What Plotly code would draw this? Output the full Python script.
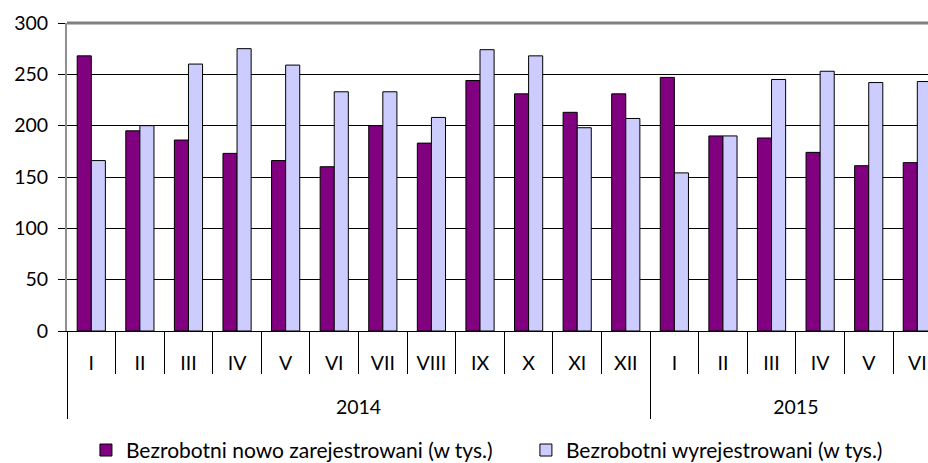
import plotly.graph_objects as go

years = ["2014"] * 12 + ["2015"] * 6
months = ["I", "II", "III", "IV", "V", "VI", "VII", "VIII", "IX", "X", "XI", "XII",
          "I", "II", "III", "IV", "V", "VI"]
registered = [268, 195, 186, 173, 166, 160, 200, 183, 244, 231, 213, 231,
              247, 190, 188, 174, 161, 164]
deregistered = [166, 200, 260, 275, 259, 233, 233, 208, 274, 268, 198, 207,
                154, 190, 245, 253, 242, 243]
series_names = ["Bezrobotni nowo zarejestrowani (w tys.)",
                "Bezrobotni wyrejestrowani (w tys.)"]

FONT = "Lato"

# month labels padded with an empty second line so that the year row sits lower
month_labels = [m + "<br><span style='font-size:48px'>\u00a0</span>" for m in months]

fig = go.Figure()
fig.add_trace(go.Bar(x=[years, month_labels], y=registered, name=series_names[0],
                     legend="legend",
                     marker=dict(color="#800080", line=dict(color="black", width=1))))
fig.add_trace(go.Bar(x=[years, month_labels], y=deregistered, name=series_names[1],
                     legend="legend2",
                     marker=dict(color="#CCCCFF", line=dict(color="black", width=1))))

legend_common = dict(orientation="h", y=-0.321, yanchor="top",
                     font=dict(family=FONT, size=21), bgcolor="rgba(0,0,0,0)")

fig.update_layout(
    width=928, height=463,
    margin=dict(l=67, r=0, t=23, b=132, autoexpand=False),
    paper_bgcolor="white", plot_bgcolor="white",
    barmode="group", bargap=0.42, bargroupgap=0,
    font=dict(family=FONT, size=19.5, color="black"),
    showlegend=True,
    legend=dict(x=0.022, xanchor="left", **legend_common),
    legend2=dict(x=0.533, xanchor="left", **legend_common),
)
fig.update_yaxes(range=[0, 300], dtick=50, showgrid=True, gridcolor="black", gridwidth=1,
                 ticks="outside", ticklen=7, tickcolor="black",
                 showline=True, linecolor="#909090", linewidth=2, zeroline=False,
                 ticklabelstandoff=6, automargin=False)
fig.update_xaxes(type="multicategory", range=[-0.5, 17.22],
                 showline=True, linecolor="black", linewidth=1,
                 ticks="outside", ticklen=42, tickcolor="black", tickwidth=1,
                 showdividers=True, dividercolor="black", dividerwidth=1,
                 ticklabelstandoff=15, automargin=False)
fig.add_shape(type="line", xref="paper", yref="paper", x0=0, x1=1, y0=1, y1=1,
              line=dict(color="#808080", width=3))

fig.write_html("out.html", config={"displayModeBar": False},
               post_script="document.body.style.margin='0px';")
